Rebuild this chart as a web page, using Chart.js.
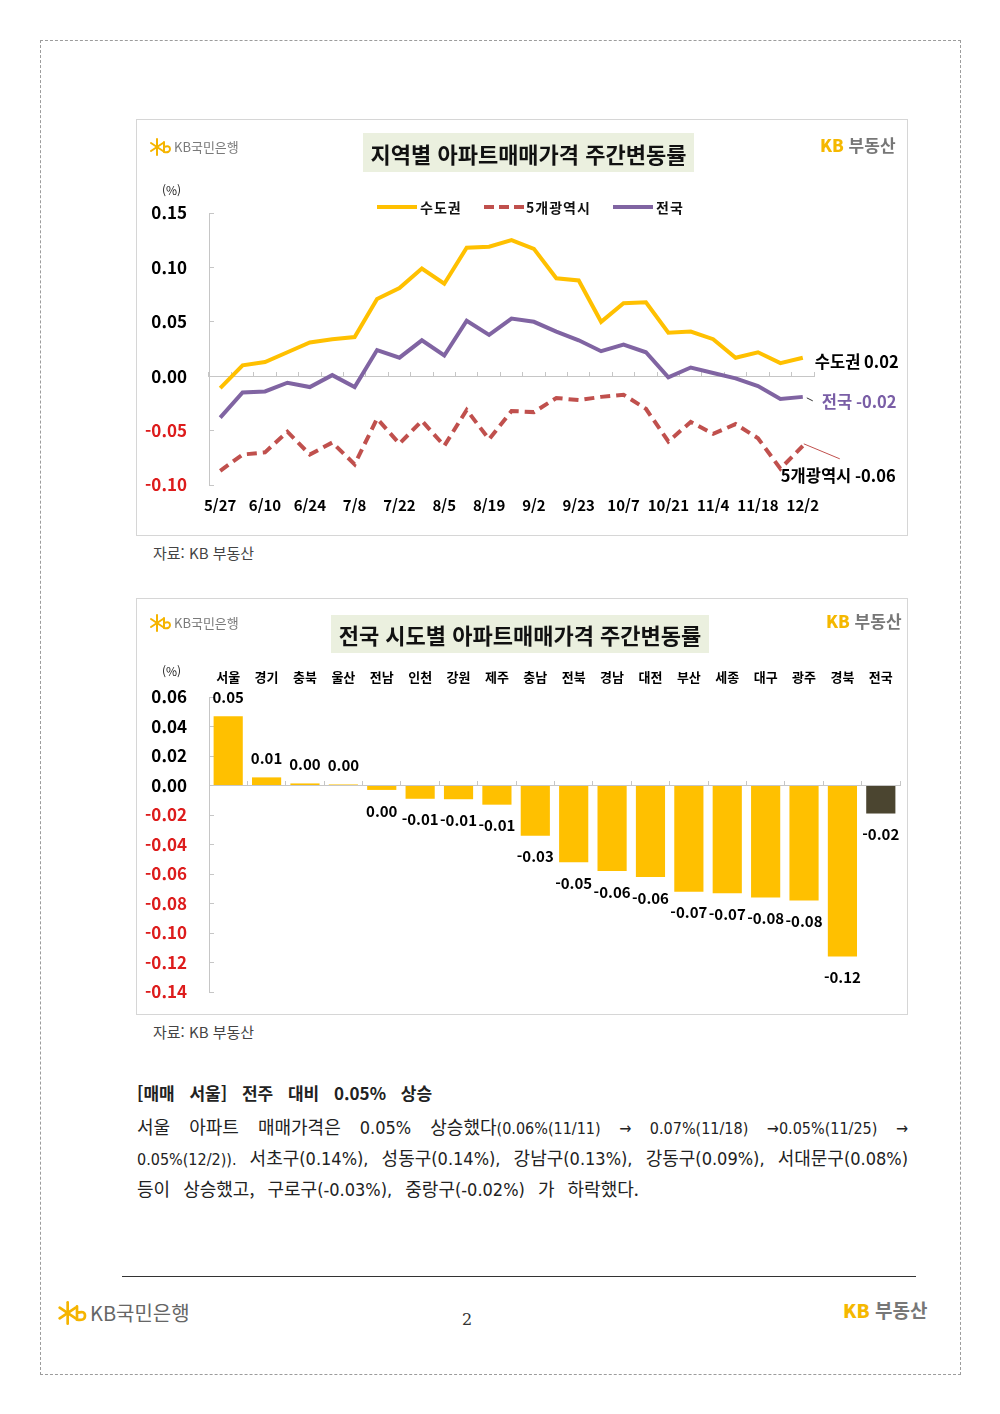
<!DOCTYPE html>
<html lang="ko">
<head>
<meta charset="utf-8">
<script src="https://cdn.jsdelivr.net/npm/chart.js@4.4.1/dist/chart.umd.min.js"></script>
<style>
body{margin:0;width:1000px;height:1414px;position:relative;background:#fff;font-family:'Noto Sans CJK KR','Noto Sans',sans-serif;color:#111;}
.abs{position:absolute;}
.page{left:40px;top:40px;width:919px;height:1333px;border:1px dashed #9c9c9c;}
.panel{left:136px;width:770px;height:415px;border:1px solid #d6d6d6;}
.panel canvas{position:absolute;left:0;top:0;}
.title{background:#ebf0df;font-weight:bold;font-size:22px;display:flex;align-items:center;justify-content:center;color:#111;}
.kbbank{font-size:13px;color:#7a7a7a;display:flex;align-items:center;gap:2px;}
.kbre{font-weight:bold;font-size:17px;color:#777;}
.kbre b{color:#f5b800;}
.pct{font-size:12px;color:#222;}
.lg{font-size:14px;font-weight:bold;letter-spacing:1px;line-height:20px;}
.src{font-size:15px;color:#444;}
.body{left:137px;width:771px;font-size:18px;color:#222;word-spacing:8px;}
.line{height:31px;line-height:31px;white-space:nowrap;}
.just{text-align:justify;text-align-last:justify;white-space:normal;word-spacing:0;}
.nar{font-family:'Liberation Sans Narrow','DejaVu Sans Condensed',sans-serif;font-size:16px;}
.nar2{font-family:'Liberation Sans Narrow','DejaVu Sans Condensed',sans-serif;font-size:18px;}
</style>
</head>
<body>
<div class="abs page"></div>

<!-- panel 1 : line chart -->
<div class="abs panel" style="top:119px"><canvas id="lineChart" width="770" height="415"></canvas></div>
<div class="abs kbbank" style="left:150px;top:137px">
  <svg width="22" height="18" viewBox="0 0 22 18"><g stroke="#f5b400" stroke-width="2" stroke-linecap="round" fill="none"><line x1="7" y1="1" x2="7" y2="17"/><line x1="1" y1="5" x2="13" y2="13"/><line x1="1" y1="13" x2="13" y2="5"/><path d="M14 4 v10 q6 1 6 -3 q0 -4 -6 -2"/></g></svg>
  <span>KB국민은행</span>
</div>
<div class="abs title" style="left:363px;top:133px;width:331px;height:39px">지역별 아파트매매가격 주간변동률</div>
<div class="abs kbre" style="left:820px;top:132px"><b>KB</b> 부동산</div>
<div class="abs pct" style="left:162px;top:181px">(%)</div>
<svg class="abs" style="left:377px;top:203px" width="40" height="8"><line x1="0" y1="4" x2="40" y2="4" stroke="#ffc000" stroke-width="4"/></svg>
<div class="abs lg" style="left:420px;top:197px">수도권</div>
<svg class="abs" style="left:484px;top:203px" width="40" height="8"><line x1="0" y1="4" x2="40" y2="4" stroke="#c0504d" stroke-width="4" stroke-dasharray="10,5"/></svg>
<div class="abs lg" style="left:526px;top:197px">5개광역시</div>
<svg class="abs" style="left:613px;top:203px" width="40" height="8"><line x1="0" y1="4" x2="40" y2="4" stroke="#8064a2" stroke-width="4"/></svg>
<div class="abs lg" style="left:656px;top:197px">전국</div>
<div class="abs src" style="left:153px;top:542px">자료: KB 부동산</div>

<!-- panel 2 : bar chart -->
<div class="abs panel" style="top:598px"><canvas id="barChart" width="770" height="415"></canvas></div>
<div class="abs kbbank" style="left:150px;top:613px">
  <svg width="22" height="18" viewBox="0 0 22 18"><g stroke="#f5b400" stroke-width="2" stroke-linecap="round" fill="none"><line x1="7" y1="1" x2="7" y2="17"/><line x1="1" y1="5" x2="13" y2="13"/><line x1="1" y1="13" x2="13" y2="5"/><path d="M14 4 v10 q6 1 6 -3 q0 -4 -6 -2"/></g></svg>
  <span>KB국민은행</span>
</div>
<div class="abs title" style="left:331px;top:615px;width:378px;height:38px">전국 시도별 아파트매매가격 주간변동률</div>
<div class="abs kbre" style="left:826px;top:608px"><b>KB</b> 부동산</div>
<div class="abs pct" style="left:162px;top:662px">(%)</div>
<div class="abs src" style="left:153px;top:1021px">자료: KB 부동산</div>

<!-- text -->
<div class="abs body" style="top:1077px">
  <div class="line" style="font-weight:bold;font-size:17px;word-spacing:10px;margin-bottom:3px">[매매 서울] 전주 대비 0.05% 상승</div>
  <div class="line just">서울 아파트 매매가격은 <span class="nar2">0.05%</span> 상승했다<span class="nar">(0.06%(11/11) → 0.07%(11/18) →0.05%(11/25) →</span></div>
  <div class="line just"><span class="nar">0.05%(12/2)).</span> 서초구<span class="nar2">(0.14%),</span> 성동구<span class="nar2">(0.14%),</span> 강남구<span class="nar2">(0.13%),</span> 강동구<span class="nar2">(0.09%),</span> 서대문구<span class="nar2">(0.08%)</span></div>
  <div class="line">등이 상승했고, 구로구<span class="nar2">(-0.03%),</span> 중랑구<span class="nar2">(-0.02%)</span> 가 하락했다.</div>
</div>

<!-- footer -->
<div class="abs" style="left:122px;top:1276px;width:794px;height:0;border-top:1.5px solid #333"></div>
<div class="abs kbbank" style="left:58px;top:1298px;font-size:20px;color:#666">
  <svg width="30" height="24" viewBox="0 0 22 18"><g stroke="#f5b400" stroke-width="2" stroke-linecap="round" fill="none"><line x1="7" y1="1" x2="7" y2="17"/><line x1="1" y1="5" x2="13" y2="13"/><line x1="1" y1="13" x2="13" y2="5"/><path d="M14 4 v10 q6 1 6 -3 q0 -4 -6 -2"/></g></svg>
  <span>KB국민은행</span>
</div>
<div class="abs" style="left:462px;top:1310px;font-family:'DejaVu Serif','Liberation Serif',serif;font-size:16px;color:#333">2</div>
<div class="abs kbre" style="left:843px;top:1296px;font-size:19px"><b>KB</b> 부동산</div>

<script>
// weekly change, %
const weeks = ['5/27','6/3','6/10','6/17','6/24','7/1','7/8','7/15','7/22','7/29','8/5','8/12','8/19','8/26','9/2','9/9','9/23','9/30','10/7','10/14','10/21','10/28','11/4','11/11','11/18','11/25','12/2'];
const sudogwon = [-0.011,0.010,0.013,0.022,0.031,0.034,0.036,0.071,0.081,0.099,0.085,0.118,0.119,0.125,0.117,0.090,0.088,0.050,0.067,0.068,0.040,0.041,0.034,0.017,0.022,0.012,0.017];
const metro5 = [-0.087,-0.072,-0.070,-0.051,-0.072,-0.061,-0.081,-0.039,-0.062,-0.041,-0.064,-0.031,-0.058,-0.032,-0.033,-0.020,-0.022,-0.019,-0.017,-0.030,-0.060,-0.042,-0.053,-0.044,-0.057,-0.085,-0.064];
const national = [-0.038,-0.015,-0.014,-0.006,-0.010,0.001,-0.010,0.024,0.017,0.033,0.019,0.051,0.038,0.053,0.050,0.041,0.033,0.023,0.029,0.022,-0.001,0.008,0.003,-0.002,-0.009,-0.021,-0.019];
const seriesNames = ['수도권','5개광역시','전국'];

const regions = ['서울','경기','충북','울산','전남','인천','강원','제주','충남','전북','경남','대전','부산','세종','대구','광주','경북','전국'];
const regionChange = [0.047,0.0055,0.0014,0.0007,-0.003,-0.009,-0.0093,-0.013,-0.034,-0.052,-0.058,-0.062,-0.072,-0.073,-0.076,-0.078,-0.116,-0.019];

const RED = '#dd1c1c';
const AXIS = '#c6c6c6';
const FONT = '"Noto Sans CJK KR", "Noto Sans", sans-serif';

function fmt(v){
  let s = v.toFixed(2);
  if (s === '-0.00') s = '0.00';
  return s;
}

const yTickColor = ctx => ctx.tick.value < -1e-9 ? RED : '#000';

// labels at the end of each line
const endLabels = {
  id: 'endLabels',
  afterDatasetsDraw(chart){
    const ctx = chart.ctx;
    const cols = ['#000', '#000', '#7a5ea6'];
    ctx.save();
    ctx.font = 'bold 16.5px ' + FONT;
    ctx.textBaseline = 'middle';
    chart.data.datasets.forEach((ds, i) => {
      const pts = chart.getDatasetMeta(i).data;
      const p = pts[pts.length - 1];
      const txt = seriesNames[i] + ' ' + fmt(ds.data[ds.data.length - 1]);
      ctx.fillStyle = cols[i];
      if (i === 0) {
        ctx.fillText(txt, p.x + 12, p.y + 4);
      } else if (i === 2) {
        ctx.strokeStyle = '#333'; ctx.lineWidth = 1;
        ctx.beginPath(); ctx.moveTo(p.x + 4, p.y + 1); ctx.lineTo(p.x + 10, p.y + 4); ctx.stroke();
        ctx.fillText(txt, p.x + 19, p.y + 5);
      } else {
        ctx.strokeStyle = '#c0504d'; ctx.lineWidth = 1;
        ctx.beginPath(); ctx.moveTo(p.x + 1, p.y - 2); ctx.lineTo(p.x + 37, p.y + 13); ctx.stroke();
        ctx.fillText(txt, p.x - 22, p.y + 30);
      }
    });
    ctx.restore();
  }
};

const zeroAxis = () => ({
  type: 'category',
  position: {y: 0},
  offset: true,
  grid: {offset: true, drawOnChartArea: false, tickLength: -5, color: AXIS},
  border: {color: AXIS},
  ticks: {display: false}
});

function yAxis(min, max, step){
  return {
    min: min, max: max,
    grid: {display: true, drawOnChartArea: false, drawTicks: true, tickLength: -5, color: AXIS},
    border: {color: AXIS},
    ticks: {stepSize: step, padding: 27, color: yTickColor,
      font: {family: FONT, size: 17, weight: 'bold'},
      callback: v => fmt(v)},
    afterFit: s => {
      s.width = 72;
      // tick padding is horizontal here, do not let it eat plot height
      s.paddingTop = 10;
      s.paddingBottom = 10;
    }
  };
}

new Chart(document.getElementById('lineChart'), {
  type: 'line',
  data: {
    labels: weeks,
    datasets: [
      {label: seriesNames[0], data: sudogwon, borderColor: '#ffc000', borderWidth: 4, pointRadius: 0, tension: 0},
      {label: seriesNames[1], data: metro5, borderColor: '#c0504d', borderWidth: 4, borderDash: [10, 6], pointRadius: 0, tension: 0},
      {label: seriesNames[2], data: national, borderColor: '#8064a2', borderWidth: 4, pointRadius: 0, tension: 0}
    ]
  },
  options: {
    responsive: false,
    animation: false,
    layout: {padding: {left: 0, right: 93, top: 93, bottom: 10}},
    plugins: {legend: {display: false}, tooltip: {enabled: false}},
    scales: {
      x: {
        offset: true,
        grid: {display: false, drawTicks: false},
        border: {display: false},
        ticks: {autoSkip: false, maxRotation: 0, padding: 11, color: '#000',
          font: {family: FONT, size: 15, weight: 'bold'},
          callback: (v, i) => i % 2 === 0 ? weeks[i] : ''},
        afterFit: s => { s.height = 40; }
      },
      x2: zeroAxis(),
      y: yAxis(-0.10, 0.15, 0.05)
    }
  },
  plugins: [endLabels]
});

// value labels over / under bars
const barValues = {
  id: 'barValues',
  afterDatasetsDraw(chart){
    const ctx = chart.ctx;
    const meta = chart.getDatasetMeta(0);
    ctx.save();
    ctx.font = 'bold 15px ' + FONT;
    ctx.fillStyle = '#000';
    ctx.textAlign = 'center';
    ctx.textBaseline = 'middle';
    meta.data.forEach((bar, i) => {
      const v = regionChange[i];
      ctx.fillText(fmt(v), bar.x, v >= 0 ? bar.y - 19 : bar.y + 21);
    });
    ctx.restore();
  }
};

new Chart(document.getElementById('barChart'), {
  type: 'bar',
  data: {
    labels: regions,
    datasets: [{
      data: regionChange,
      backgroundColor: regions.map(r => r === '전국' ? '#4b4530' : '#ffc000'),
      barPercentage: 0.76,
      categoryPercentage: 1.0
    }]
  },
  options: {
    responsive: false,
    animation: false,
    layout: {padding: {left: 0, right: 7, top: 53, bottom: 22}},
    plugins: {legend: {display: false}, tooltip: {enabled: false}},
    scales: {
      x: {
        position: 'top',
        grid: {display: false, drawTicks: false},
        border: {display: false},
        ticks: {autoSkip: false, maxRotation: 0, padding: 12, color: '#000',
          font: {family: FONT, size: 13, weight: 'bold'}},
        afterFit: s => { s.height = 45; }
      },
      x2: zeroAxis(),
      y: yAxis(-0.14, 0.06, 0.02)
    }
  },
  plugins: [barValues]
});
</script>
</body>
</html>
